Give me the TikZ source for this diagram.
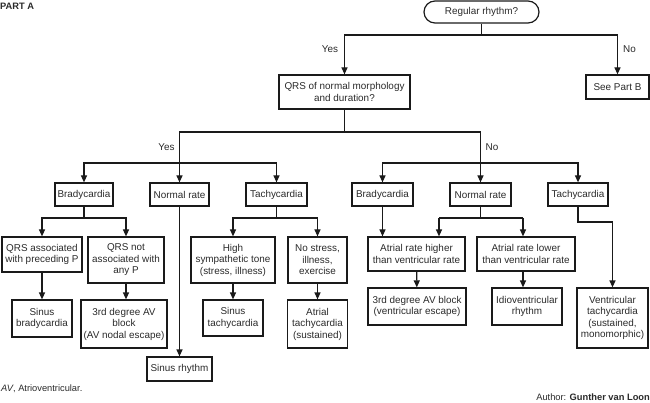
\documentclass[tikz,border=0pt]{standalone}
\usepackage{fontspec}
\setmainfont{Liberation Sans}
\usetikzlibrary{arrows.meta}
\definecolor{ink}{HTML}{1A1A1A}
\definecolor{txt}{HTML}{2A2A2A}
\tikzset{
  box/.style={draw=ink, line width=1.2pt, align=center, inner sep=0pt, text=txt,
    font=\fontsize{9.9}{11.5}\selectfont},
  conn/.style={draw=ink, line width=1.2pt},
  arr/.style={conn, -{Triangle[length=7pt,width=6pt]}},
  lbl/.style={text=txt, font=\fontsize{9.9}{11.5}\selectfont, inner sep=0pt},
}
\begin{document}
\begin{tikzpicture}[x=1pt,y=-1pt]
\useasboundingbox (0,0) rectangle (650,403);
% title
\node[lbl, anchor=west, font=\fontsize{9.3}{10}\selectfont\bfseries] (title) at (0,6) {PART A};
% top level
\node[box, rounded corners=11pt, minimum width=115pt, minimum height=22pt] (reg) at (481.5,12) {Regular rhythm?};
\node[box, minimum width=131pt, minimum height=34pt] (qrs) at (344.5,92) {QRS of normal morphology\\and duration?};
\node[box, minimum width=63pt, minimum height=24pt] (partB) at (617.5,87) {See Part B};
% second level
\node[box, minimum width=58pt, minimum height=23pt] (brady1) at (84,194.5) {Bradycardia};
\node[box, minimum width=59pt, minimum height=23pt] (normal1) at (179.5,194.5) {Normal rate};
\node[box, minimum width=61pt, minimum height=23pt] (tachy1) at (276.5,194.5) {Tachycardia};
\node[box, minimum width=61pt, minimum height=23pt] (brady2) at (382.5,194.5) {Bradycardia};
\node[box, minimum width=61pt, minimum height=23pt] (normal2) at (480.5,194.5) {Normal rate};
\node[box, minimum width=60pt, minimum height=23pt] (tachy2) at (578,194.5) {Tachycardia};
% third level
\node[box, minimum width=80pt, minimum height=35pt] (qrsassoc) at (42,254.5) {QRS associated\\with preceding P};
\node[box, minimum width=76pt, minimum height=46pt] (qrsnot) at (126,260) {QRS not\\associated with\\any P};
\node[box, minimum width=84pt, minimum height=46pt] (highsym) at (233,260) {High\\sympathetic tone\\(stress, illness)};
\node[box, minimum width=59pt, minimum height=46pt] (nostress) at (317.5,260) {No stress,\\illness,\\exercise};
\node[box, minimum width=97pt, minimum height=34pt] (atrhigh) at (416.5,254) {Atrial rate higher\\than ventricular rate};
\node[box, minimum width=98pt, minimum height=34pt] (atrlow) at (526,254) {Atrial rate lower\\than ventricular rate};
% fourth level
\node[box, minimum width=60pt, minimum height=37pt] (sinbrady) at (42,318.5) {Sinus\\bradycardia};
\node[box, minimum width=86pt, minimum height=48pt] (avblock1) at (124,324) {3rd degree AV\\block\\(AV nodal escape)};
\node[box, minimum width=60pt, minimum height=36pt] (sintachy) at (233,318) {Sinus\\tachycardia};
\node[box, minimum width=60pt, minimum height=48pt] (atrtachy) at (317.5,324) {Atrial\\tachycardia\\(sustained)};
\node[box, minimum width=65pt, minimum height=24pt] (sinrhythm) at (179.5,369) {Sinus rhythm};
\node[box, minimum width=98pt, minimum height=37pt] (avblock2) at (417,306.5) {3rd degree AV block\\(ventricular escape)};
\node[box, minimum width=70pt, minimum height=37pt] (idio) at (527,306.5) {Idioventricular\\rhythm};
\node[box, minimum width=71pt, minimum height=60pt] (vtach) at (612.5,318) {Ventricular\\tachycardia\\(sustained,\\monomorphic)};
% junction coordinates
\coordinate (j1) at (481.5,35);
\coordinate (j2) at (344.5,132);
\coordinate (jL) at (179.5,163);
\coordinate (jR) at (480.5,163);
\coordinate (jB1) at (84,218);
\coordinate (jT1) at (276.5,218);
\coordinate (jN2) at (480.5,218);
\coordinate (n2L) at (439,218);
\coordinate (n2R) at (523,218);
\coordinate (jT2) at (578,222);
\coordinate (jT2r) at (612.5,222);
% connectors
\draw[conn] (reg) -- (j1);
\draw[arr] (j1) -| (qrs);
\draw[arr] (j1) -| (partB);
\draw[conn] (qrs) -- (j2);
\draw[conn] (j2) -| (jL);
\draw[conn] (j2) -| (jR);
\draw[arr] (jL) -- (normal1);
\draw[arr] (jL) -| (brady1);
\draw[arr] (jL) -| (tachy1);
\draw[arr] (jR) -- (normal2);
\draw[arr] (jR) -| (brady2);
\draw[arr] (jR) -| (tachy2);
\draw[conn] (brady1) -- (jB1);
\draw[arr] (jB1) -| (qrsassoc);
\draw[arr] (jB1) -| (qrsnot);
\draw[arr] (qrsassoc) -- (sinbrady);
\draw[arr] (qrsnot.south) -- (qrsnot.south |- avblock1.north);
\draw[arr] (normal1) -- (sinrhythm);
\draw[conn] (tachy1) -- (jT1);
\draw[arr] (jT1) -| (highsym);
\draw[arr] (jT1) -| (nostress);
\draw[arr] (highsym) -- (sintachy);
\draw[arr] (nostress) -- (atrtachy);
\draw[arr] (brady2.south) -- (brady2.south |- atrhigh.north);
\draw[conn] (normal2) -- (jN2);
\draw[conn] (n2L) -- (n2R);
\draw[arr] (n2L) -- (n2L |- atrhigh.north);
\draw[arr] (n2R) -- (n2R |- atrlow.north);
\draw[arr] (atrhigh) -- (avblock2);
\draw[arr] (atrlow.south -| n2R) -- (n2R |- idio.north);
\draw[conn] (tachy2) -- (jT2) -- (jT2r);
\draw[arr] (jT2r) -- (vtach);
% labels
\node[lbl] (yes1) at (330,49) {Yes};
\node[lbl] (no1) at (629.5,49) {No};
\node[lbl] (yes2) at (166.5,147) {Yes};
\node[lbl] (no2) at (492,147) {No};
\node[lbl, anchor=west, font=\fontsize{9.3}{10}\selectfont] (foot) at (1,388.5) {\textit{AV}, Atrioventricular.};
\node[lbl, anchor=east, font=\fontsize{9.3}{10}\selectfont] (author) at (650,397.5) {Author: \textbf{Gunther van Loon}};
\end{tikzpicture}
\end{document}
